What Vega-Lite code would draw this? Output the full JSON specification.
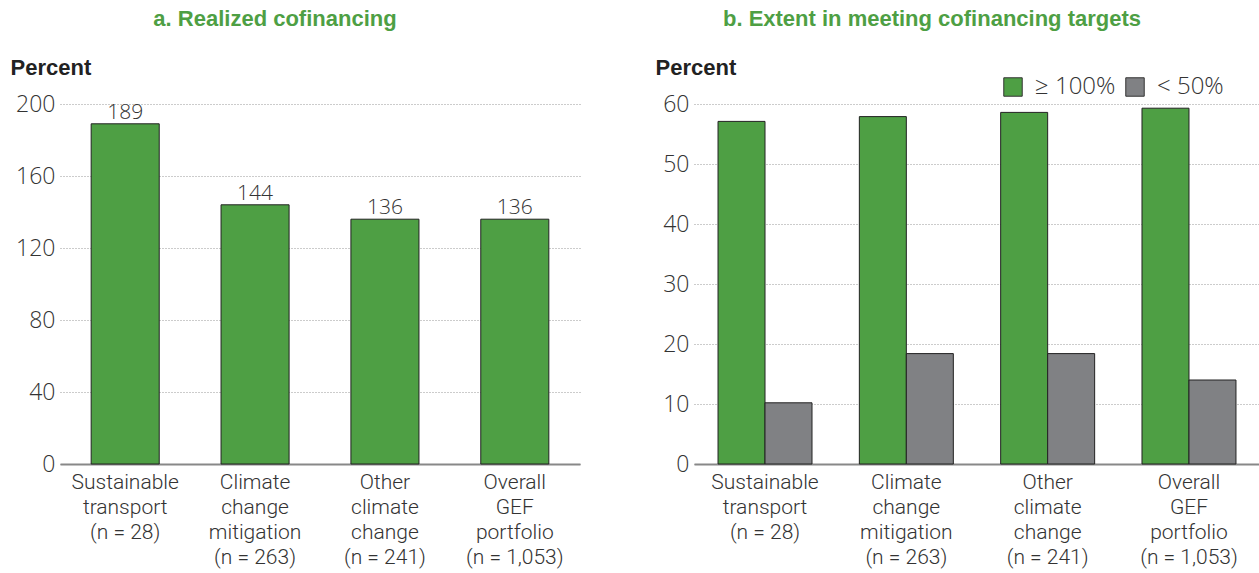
{
  "$schema": "https://vega.github.io/schema/vega-lite/v6.json",
  "background": "white",
  "padding": {"left": 10, "top": 8, "right": 0, "bottom": 5},
  "bounds": "flush",
  "spacing": 114,
  "datasets": {
    "realized": [
      {"cat": "Sustainable|transport|(n = 28)", "value": 189},
      {"cat": "Climate|change|mitigation|(n = 263)", "value": 144},
      {"cat": "Other|climate|change|(n = 241)", "value": 136},
      {"cat": "Overall|GEF|portfolio|(n = 1,053)", "value": 136}
    ],
    "targets": [
      {"cat": "Sustainable|transport|(n = 28)", "group": "≥ 100%", "value": 57.1},
      {"cat": "Sustainable|transport|(n = 28)", "group": "< 50%", "value": 10.2},
      {"cat": "Climate|change|mitigation|(n = 263)", "group": "≥ 100%", "value": 57.9},
      {"cat": "Climate|change|mitigation|(n = 263)", "group": "< 50%", "value": 18.4},
      {"cat": "Other|climate|change|(n = 241)", "group": "≥ 100%", "value": 58.6},
      {"cat": "Other|climate|change|(n = 241)", "group": "< 50%", "value": 18.4},
      {"cat": "Overall|GEF|portfolio|(n = 1,053)", "group": "≥ 100%", "value": 59.3},
      {"cat": "Overall|GEF|portfolio|(n = 1,053)", "group": "< 50%", "value": 14.0}
    ]
  },
  "hconcat": [
    {
      "width": 520,
      "height": 360,
      "title": {"text": "a. Realized cofinancing", "dx": -45, "offset": 25},
      "data": {"name": "realized"},
      "encoding": {
        "x": {
          "field": "cat", "type": "nominal", "sort": null,
          "scale": {"paddingInner": 0.476, "paddingOuter": 0.24},
          "axis": {"title": null, "labelAngle": 0, "labelExpr": "split(datum.label, '|')", "domain": true, "ticks": false}
        },
        "y": {
          "field": "value", "type": "quantitative",
          "scale": {"domain": [0, 200]},
          "axis": {"values": [0, 40, 80, 120, 160, 200], "title": "Percent", "titleX": -50, "titleY": -30}
        }
      },
      "layer": [
        {"mark": {"type": "bar", "color": "#4E9F44", "stroke": "#222222", "strokeWidth": 1}},
        {"mark": {"type": "text", "baseline": "alphabetic", "dy": -5, "fontSize": 21, "font": "Open Sans", "fontWeight": 300, "color": "#333333"},
         "encoding": {"text": {"field": "value", "type": "quantitative"}}}
      ]
    },
    {
      "width": 566,
      "height": 360,
      "title": {"text": "b. Extent in meeting cofinancing targets", "dx": -45, "offset": 25},
      "data": {"name": "targets"},
      "mark": {"type": "bar", "stroke": "#222222", "strokeWidth": 1},
      "encoding": {
        "x": {
          "field": "cat", "type": "nominal", "sort": null,
          "scale": {"paddingInner": 0.335, "paddingOuter": 0.17},
          "axis": {"title": null, "labelAngle": 0, "labelExpr": "split(datum.label, '|')", "domain": true, "ticks": false}
        },
        "xOffset": {"field": "group", "type": "nominal", "sort": ["≥ 100%", "< 50%"]},
        "y": {
          "field": "value", "type": "quantitative",
          "scale": {"domain": [0, 60]},
          "axis": {"values": [0, 10, 20, 30, 40, 50, 60], "title": "Percent", "titleX": -39, "titleY": -30}
        },
        "color": {
          "field": "group", "type": "nominal",
          "scale": {"domain": ["≥ 100%", "< 50%"], "range": ["#4E9F44", "#808184"]},
          "legend": {
            "title": null, "orient": "none", "direction": "horizontal",
            "legendX": 941, "legendY": -29,
            "symbolType": "square", "symbolSize": 340, "symbolStrokeColor": "#333333", "symbolStrokeWidth": 1,
            "labelFontSize": 24, "labelFont": "Open Sans", "labelFontWeight": 300, "labelColor": "#333333",
            "columnPadding": 7, "labelOffset": 10
          }
        }
      }
    }
  ],
  "config": {
    "view": {"stroke": null},
    "title": {"font": "Liberation Sans", "fontSize": 22, "fontWeight": "bold", "color": "#4E9F44", "anchor": "middle"},
    "axis": {
      "labelFont": "Open Sans", "labelFontWeight": 300, "labelFontSize": 23, "labelColor": "#333333",
      "titleFont": "Liberation Sans", "titleFontSize": 22, "titleFontWeight": "bold", "titleColor": "#222222",
      "titleAngle": 0, "titleAlign": "left", "titleBaseline": "alphabetic"
    },
    "axisY": {
      "grid": true, "gridColor": "#999999", "gridDash": [1, 2], "gridWidth": 1,
      "domain": false, "ticks": false, "labelPadding": 5
    },
    "axisX": {
      "grid": false, "domainColor": "#888888", "domainWidth": 2, "labelPadding": 7,
      "labelFont": "Roboto", "labelFontWeight": 300, "labelFontSize": 21, "labelLineHeight": 25
    }
  }
}
